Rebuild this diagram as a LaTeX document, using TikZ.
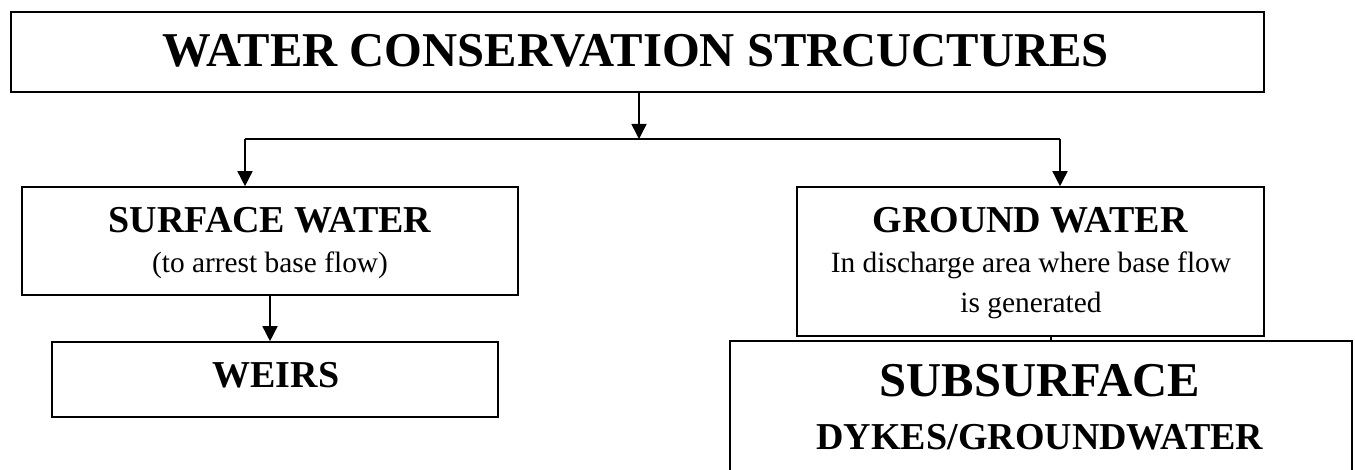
\documentclass[tikz,border=0pt]{standalone}
\usepackage{fontspec}
\setmainfont{Liberation Serif}
\usetikzlibrary{arrows.meta}
\tikzset{
    box/.style={draw, line width=1.6pt, inner sep=0pt},
    arr/.style={line width=1.6pt, -{Triangle[length=15pt,width=15pt]}},
    hugetxt/.style={anchor=base, inner sep=0pt, font=\fontsize{48.6}{58}\selectfont\bfseries},
    headtxt/.style={anchor=base, inner sep=0pt, font=\fontsize{38}{46}\selectfont\bfseries},
    subtxt/.style={anchor=base, inner sep=0pt, font=\fontsize{29.4}{35}\selectfont},
}
\begin{document}
\begin{tikzpicture}[x=1pt,y=-1pt]
        \useasboundingbox (0,0) rectangle (1355,470);
        \clip (0,0) rectangle (1355,470);
        % boxes
        \node[box, minimum width=1253pt, minimum height=80pt] (title) at (637.5,52) {};
        \node[box, minimum width=496pt, minimum height=108pt] (surf) at (270,241) {};
        \node[box, minimum width=446pt, minimum height=75pt] (weirs) at (275,379.5) {};
        \node[box, minimum width=467pt, minimum height=149pt] (ground) at (1030.5,261.5) {};
        \node[box, minimum width=622pt, minimum height=150pt] (subsurf) at (1041,416) {};
        % texts
        \node[hugetxt] (titletxt) at (636,67) {WATER CONSERVATION STRCUCTURES};
        \node[headtxt] (surftxt) at (270,233) {SURFACE WATER};
        \node[subtxt] (surfnote) at (270,273) {(to arrest base flow)};
        \node[headtxt] (weirstxt) at (276,388) {WEIRS};
        \node[headtxt] (groundtxt) at (1030,233) {GROUND WATER};
        \node[subtxt] (groundnote) at (1031,273) {In discharge area where base flow};
        \node[subtxt] (groundnoteb) at (1031,313) {is generated};
        \node[hugetxt] (subsurftxt) at (1040,396) {SUBSURFACE};
        \node[headtxt] (dykestxt) at (1040,449) {DYKES/GROUNDWATER};
        % connectors
        \coordinate (split) at (639,139);
        \coordinate (lturn) at (245,139);
        \coordinate (rturn) at (1060,139);
        \coordinate (gdown) at (1051,336);
        \draw[arr] (title.south -| split) -- (split);
        \draw[line width=1.6pt] (lturn) -- (rturn);
        \draw[arr] (lturn) -- (lturn |- surf.north);
        \draw[arr] (rturn) -- (rturn |- ground.north);
        \draw[arr] (surf.south) -- (surf.south |- weirs.north);
        \draw[line width=1.6pt] (gdown) -- (gdown |- subsurf.north);
    \end{tikzpicture}
\end{document}
